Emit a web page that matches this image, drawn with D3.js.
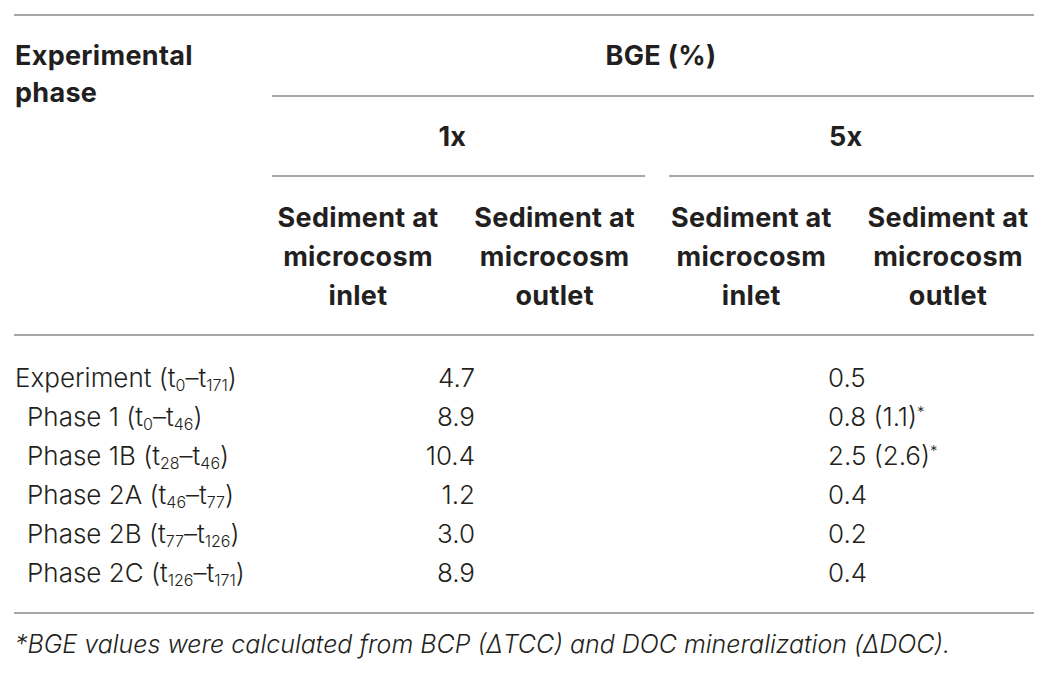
<!DOCTYPE html>
<html>
<head>
<meta charset="utf-8">
<script src="https://cdn.jsdelivr.net/npm/d3@7"></script>
<style>
  body { margin: 0; background: #fff; }
  .head { font-family: Inter, "Liberation Sans", Arial, sans-serif; font-weight: bold; font-size: 27px; letter-spacing: 0.3px; fill: #231f20; }
  .cell { font-family: Inter, "Liberation Sans", sans-serif; font-weight: 300; font-size: 26px; fill: #231f20; }
  .note { font-family: Inter, "Liberation Sans", sans-serif; font-weight: 300; font-style: italic; font-size: 25px; fill: #231f20; }
</style>
</head>
<body>
<div id="tabela"></div>
<script>
// Dados da tabela
const phases = ["Experiment", "Phase 1", "Phase 1B", "Phase 2A", "Phase 2B", "Phase 2C"];
const tStart = ["0", "0", "28", "46", "77", "126"];
const tEnd = ["171", "46", "46", "77", "126", "171"];
const bge1x = [4.7, 8.9, 10.4, 1.2, 3.0, 8.9];
const bge5x = [0.5, 0.8, 2.5, 0.4, 0.2, 0.4];
const bge5xAlt = [null, 1.1, 2.6, null, null, null];
const groups = ["1x", "5x"];
const subCols = ["inlet", "outlet", "inlet", "outlet"];
const footnote = "*BGE values were calculated from BCP (\u0394TCC) and DOC mineralization (\u0394DOC).";

const width = 1055, height = 674;

const svg = d3.select("#tabela")
    .append("svg")
    .attr("width", width)
    .attr("height", height);

// Escalas
const colX = d3.scalePoint().domain(d3.range(4)).range([358, 948]);
const rowY = d3.scalePoint().domain(phases).range([387, 582]);

const lineColor = "#8a8a8a";
function hline(x1, x2, y) {
    svg.append("line")
        .attr("x1", x1).attr("x2", x2)
        .attr("y1", y).attr("y2", y)
        .attr("stroke", lineColor)
        .attr("stroke-width", 1.5);
}

// Linhas
hline(14, 1034, 15);
hline(272, 1034, 96);
hline(272, 645, 176);
hline(669, 1034, 176);
hline(14, 1034, 335);
hline(14, 1034, 613);

// Cabeçalho
svg.append("text").attr("class", "head").attr("x", 15).attr("y", 65).text("Experimental");
svg.append("text").attr("class", "head").attr("x", 15).attr("y", 102).text("phase");
svg.append("text").attr("class", "head").attr("x", 661).attr("y", 65)
    .attr("text-anchor", "middle").text("BGE (%)");

svg.selectAll(".grp")
    .data(groups)
    .enter().append("text")
    .attr("class", "head")
    .attr("text-anchor", "middle")
    .attr("x", (d, i) => (colX(i * 2) + colX(i * 2 + 1)) / 2 - 4)
    .attr("y", 146)
    .text(d => d);

subCols.forEach((d, i) => {
    const t = svg.append("text")
        .attr("class", "head")
        .attr("text-anchor", "middle");
    ["Sediment at", "microcosm", d].forEach((s, j) => {
        t.append("tspan").attr("x", colX(i)).attr("y", 227 + j * 39).text(s);
    });
});

// Linhas de dados
phases.forEach((p, i) => {
    const t = svg.append("text")
        .attr("class", "cell")
        .attr("x", i === 0 ? 15 : 27)
        .attr("y", rowY(p));
    t.append("tspan").text(p + " (t");
    t.append("tspan").attr("baseline-shift", "-4").style("font-size", "16px").text(tStart[i]);
    t.append("tspan").text("\u2013t");
    t.append("tspan").attr("baseline-shift", "-4").style("font-size", "16px").text(tEnd[i]);
    t.append("tspan").text(")");
});

svg.selectAll(".v1")
    .data(bge1x)
    .enter().append("text")
    .attr("class", "cell")
    .attr("text-anchor", "end")
    .attr("x", 475)
    .attr("y", (d, i) => rowY(phases[i]))
    .text(d => d.toFixed(1));

svg.selectAll(".v5")
    .data(bge5x)
    .enter().append("text")
    .attr("class", "cell")
    .attr("x", 828)
    .attr("y", (d, i) => rowY(phases[i]))
    .each(function (d, i) {
        const t = d3.select(this);
        t.append("tspan").text(d.toFixed(1));
        if (bge5xAlt[i] !== null) {
            t.append("tspan").text(" (" + bge5xAlt[i].toFixed(1) + ")");
            t.append("tspan").attr("baseline-shift", "9").style("font-size", "15px").text("*");
        }
    });

// Nota de rodapé
svg.append("text")
    .attr("class", "note")
    .attr("x", 15)
    .attr("y", 653)
    .text(footnote);
</script>
</body>
</html>
